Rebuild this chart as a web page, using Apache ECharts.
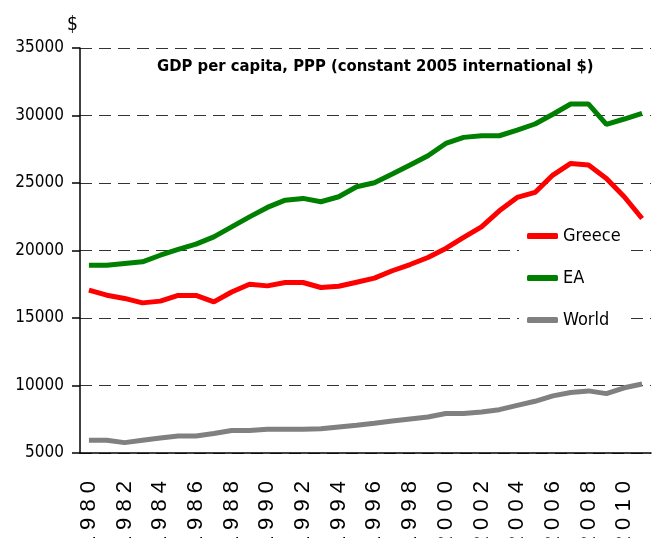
<!DOCTYPE html>
<html>
<head>
<meta charset="utf-8">
<script src="https://cdn.jsdelivr.net/npm/echarts@6/dist/echarts.min.js"></script>
<style>
  html, body { margin: 0; padding: 0; background: #fff; }
  #chart { width: 656px; height: 538px; }
</style>
</head>
<body>
<div id="chart"></div>
<script>
const years = [
  '1980', '1981', '1982', '1983', '1984', '1985', '1986', '1987',
  '1988', '1989', '1990', '1991', '1992', '1993', '1994', '1995',
  '1996', '1997', '1998', '1999', '2000', '2001', '2002', '2003',
  '2004', '2005', '2006', '2007', '2008', '2009', '2010', '2011',
];
const greece = [
  17060, 16690, 16450, 16120, 16250, 16670, 16670, 16190,
  16930, 17500, 17380, 17630, 17630, 17260, 17350, 17650,
  17950, 18500, 18960, 19480, 20150, 20970, 21750, 22940,
  23930, 24300, 25590, 26450, 26330, 25340, 23980, 22370,
];
const ea = [
  18910, 18910, 19040, 19160, 19650, 20080, 20470, 21010,
  21750, 22490, 23190, 23730, 23860, 23610, 23980, 24720,
  25020, 25660, 26330, 27020, 27930, 28380, 28500, 28500,
  28920, 29370, 30090, 30850, 30850, 29340, 29740, 30160,
];
const world = [
  5940, 5940, 5770, 5940, 6110, 6260, 6260, 6440,
  6660, 6660, 6760, 6760, 6760, 6800, 6930, 7050,
  7200, 7370, 7520, 7670, 7920, 7920, 8040, 8210,
  8530, 8830, 9230, 9480, 9600, 9400, 9830, 10110,
];

const NARROW = '"DejaVu Sans Condensed", "Liberation Sans Narrow", sans-serif';

const chart = echarts.init(document.getElementById('chart'));

const line = (name, data, color) => ({
  name,
  type: 'line',
  data,
  symbol: 'none',
  color,
  lineStyle: { width: 5, color },
});

chart.setOption({
  animation: false,
  title: {
    text: 'GDP per capita, PPP (constant 2005 international $)',
    left: 152,
    top: 53,
    textStyle: { fontFamily: NARROW, fontWeight: 'bold', fontSize: 16.5, color: '#000' },
  },
  graphic: [{
    type: 'text',
    left: 67,
    top: 16,
    style: { text: '$', fontFamily: NARROW, fontSize: 19, fill: '#000' },
  }],
  legend: {
    orient: 'vertical',
    left: 519,
    top: 223,
    padding: [4, 7, 4, 8],
    backgroundColor: '#fff',
    itemGap: 24,
    itemWidth: 31,
    itemHeight: 6,
    icon: 'roundRect',
    textStyle: { fontFamily: NARROW, fontSize: 18, color: '#000' },
    data: ['Greece', 'EA', 'World'],
  },
  grid: { left: 80, right: 5, top: 48, height: 405, outerBoundsMode: 'none' },
  xAxis: {
    type: 'category',
    data: years,
    boundaryGap: true,
    axisLine: { lineStyle: { color: '#000', width: 1.5 } },
    axisTick: { interval: 1, length: 10, lineStyle: { color: '#000', width: 1.5 } },
    axisLabel: {
      interval: 1,
      rotate: 90,
      margin: 28,
      fontFamily: '"Liberation Sans", sans-serif',
      fontSize: 22,
      color: '#000',
      formatter: v => v.split('').join(' '),
    },
  },
  yAxis: {
    type: 'value',
    min: 5000,
    max: 35000,
    interval: 5000,
    axisLine: { show: true, lineStyle: { color: '#000', width: 1.5 } },
    axisTick: { show: true, inside: false, length: 8, lineStyle: { color: '#000', width: 1.5 } },
    axisLabel: {
      margin: 16,
      fontFamily: NARROW,
      fontSize: 17,
      color: '#000',
      formatter: v => String(v),
    },
    splitLine: { lineStyle: { color: '#333', width: 1, type: [12, 7] } },
  },
  series: [
    line('World', world, '#808080'),
    line('EA', ea, '#008000'),
    line('Greece', greece, '#ff0000'),
  ],
});
</script>
</body>
</html>
